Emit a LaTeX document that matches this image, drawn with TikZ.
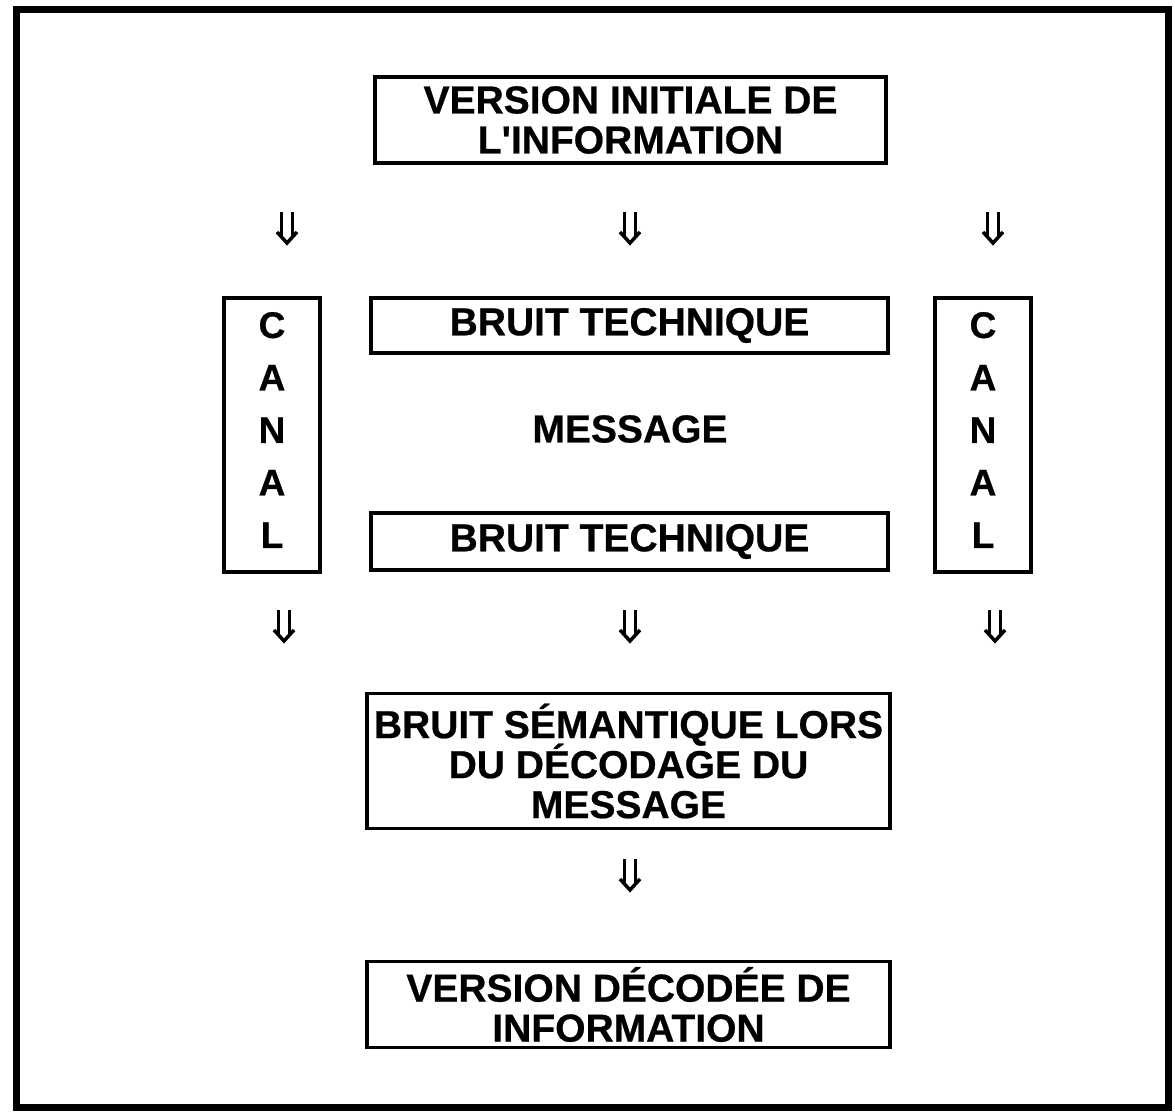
\documentclass[tikz,border=0pt]{standalone}
\usepackage{fontspec}
\setmainfont[BoldFeatures={FakeBold=0.6}]{Liberation Sans}
\begin{document}
\begin{tikzpicture}[x=1pt,y=-1pt,
  txt/.style={font=\bfseries\fontsize{39}{40}\selectfont},
  box/.style={draw,line width=3.8pt,inner sep=0pt,align=center,txt},
  lbl/.style={inner sep=0pt,align=center,txt},
  canalbox/.style={draw,line width=3.8pt,inner sep=0pt,minimum width=96pt,minimum height=274pt},
  canaltxt/.style={inner sep=0pt,align=center,font=\bfseries\fontsize{37}{52.5}\selectfont},
  dn/.pic={\draw[line width=3.5pt] (-5.5,-15)--(-5.5,11) (5.5,-15)--(5.5,11);
           \draw[line width=3.5pt,line join=miter] (-10,5)--(0,16)--(10,5);}]
\lineskiplimit=-60pt\relax
\useasboundingbox (0,0) rectangle (1175,1114);
\draw[line width=7pt] (16,9) rectangle (1168,1107);
\node[box,minimum width=511pt,minimum height=86pt] (init) at (630.5,120) {VERSION INITIALE DE\\L\textquotesingle INFORMATION};
\pic at (287,227) {dn};
\pic at (630,227) {dn};
\pic at (993,227) {dn};
\node[canalbox] (canalL) at (272,435) {};
\node[canaltxt] (canalLt) at (272,430) {C\\A\\N\\A\\L};
\node[canalbox] (canalR) at (983,435) {};
\node[canaltxt] (canalRt) at (983,430) {C\\A\\N\\A\\L};
\node[box,minimum width=517pt,minimum height=55pt] (bt1) at (629.5,325.5) {BRUIT TECHNIQUE};
\node[lbl] (msg) at (630,429) {MESSAGE};
\node[box,minimum width=517pt,minimum height=57pt] (bt2) at (629.5,541.5) {BRUIT TECHNIQUE};
\pic at (284,625) {dn};
\pic at (630,625) {dn};
\pic at (995,625) {dn};
\node[box,minimum width=523pt,minimum height=135pt] (sem) at (628.5,761) {BRUIT SÉMANTIQUE LORS\\DU DÉCODAGE DU\\MESSAGE};
\pic at (630,874) {dn};
\node[box,minimum width=523pt,minimum height=86pt] (dec) at (628.5,1004.5) {VERSION DÉCODÉE DE\\INFORMATION};
\end{tikzpicture}
\end{document}
